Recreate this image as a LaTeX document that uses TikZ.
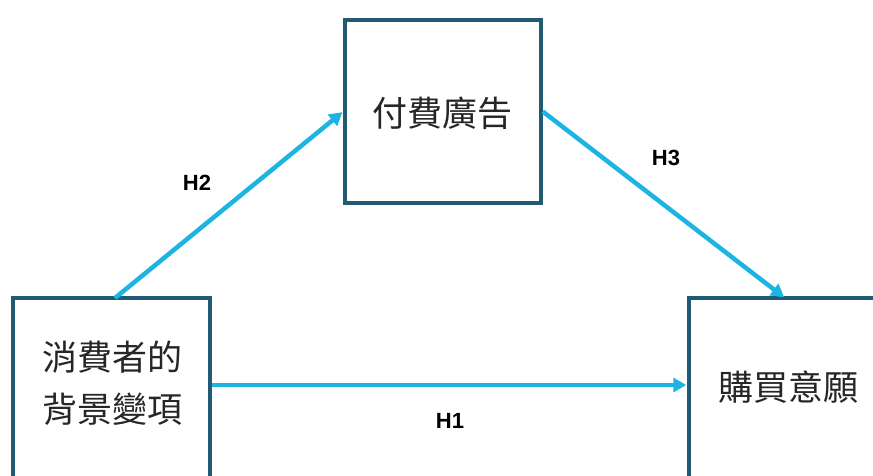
\documentclass[tikz,border=0pt]{standalone}
\usepackage{fontspec}
\newfontfamily\cjk{Noto Sans CJK TC}
\newfontfamily\lab{Liberation Sans}
\usetikzlibrary{arrows.meta}
\definecolor{boxc}{HTML}{215A74}
\definecolor{arrc}{HTML}{1CB4E2}
\tikzset{
  box/.style={draw=boxc, line width=3.5pt, fill=white, inner sep=0pt},
  txt/.style={font=\cjk\fontsize{35}{52}\selectfont, text=black!85, align=center, inner sep=0pt},
  hlab/.style={font=\lab\bfseries\fontsize{22}{24}\selectfont, inner sep=0pt},
  conn/.style={draw=arrc, line width=4.5pt, -{Triangle[length=13pt,width=14pt]}, shorten >=1pt}
}
\begin{document}
\begin{tikzpicture}[x=1pt,y=-1pt]
\useasboundingbox (0,0) rectangle (873,475);
\clip (0,0) rectangle (873,475);
\fill[white] (0,0) rectangle (873,475);
\node[box, minimum width=196pt, minimum height=183pt] (tbox) at (443,111.5) {};
\node[box, minimum width=197pt, minimum height=192pt] (lbox) at (111.5,394) {};
\node[box, minimum width=201pt, minimum height=192pt] (rbox) at (789.5,394) {};
\node[txt] (ttxt) at (442,113) {付費廣告};
\node[txt] (ltxt) at (112,383) {消費者的\\背景變項};
\node[txt] (rtxt) at (788,387) {購買意願};
\coordinate (h2s) at (115,298);
\coordinate (h3e) at (785,298);
\coordinate (h1y) at (0,385);
\draw[conn] (h2s) -- (tbox.west);
\draw[conn] (tbox.east) -- (h3e);
\draw[conn] (lbox.east |- h1y) -- (rbox.west |- h1y);
\node[hlab] (h2) at (197,183) {H2};
\node[hlab] (h3) at (666,158) {H3};
\node[hlab] (h1) at (450,421) {H1};
\end{tikzpicture}
\end{document}
